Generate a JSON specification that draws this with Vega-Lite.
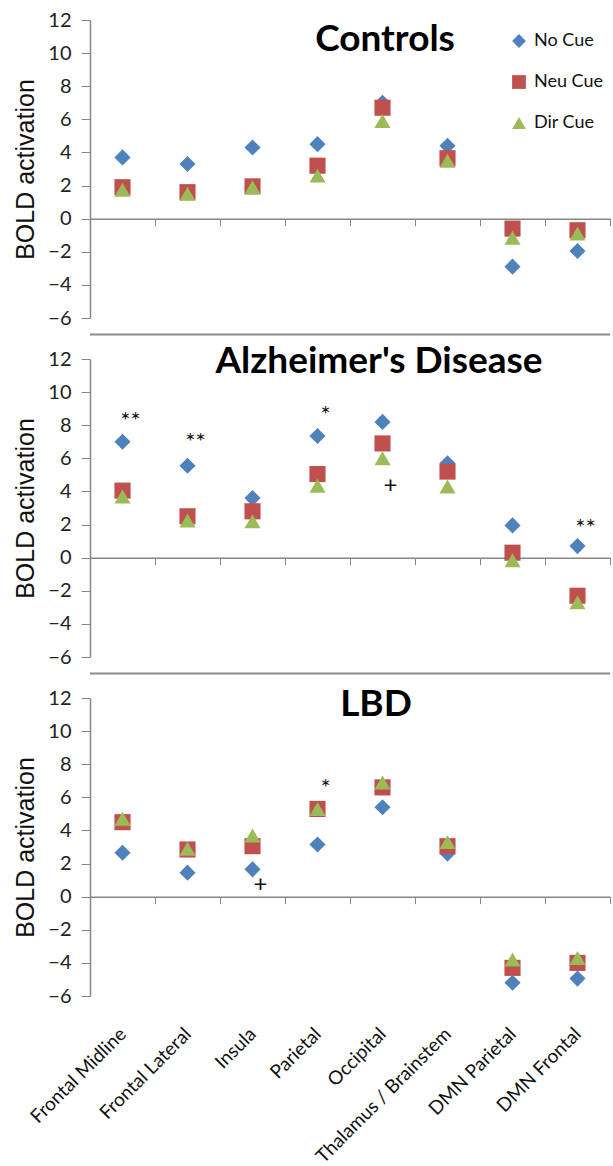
{
  "$schema": "https://vega.github.io/schema/vega-lite/v6.json",
  "padding": {"left": 13, "top": 10, "right": 0, "bottom": 0},
  "background": "white",
  "config": {
    "view": {"stroke": null},
    "font": "Lato",
    "axis": {"grid": false, "domainColor": "#868686", "tickColor": "#868686", "labelColor": "#222222", "labelFont": "Lato", "labelOverlap": false},
    "axisY": {"labelOverlap": false, "labelBound": false, "labelSeparation": -50}
  },
  "datasets": {
    "points": [
      {"group": "Controls", "region": "Frontal Midline", "cue": "No Cue", "value": 3.7},
      {"group": "Controls", "region": "Frontal Lateral", "cue": "No Cue", "value": 3.3},
      {"group": "Controls", "region": "Insula", "cue": "No Cue", "value": 4.3},
      {"group": "Controls", "region": "Parietal", "cue": "No Cue", "value": 4.5},
      {"group": "Controls", "region": "Occipital", "cue": "No Cue", "value": 7.0},
      {"group": "Controls", "region": "Thalamus / Brainstem", "cue": "No Cue", "value": 4.4},
      {"group": "Controls", "region": "DMN Parietal", "cue": "No Cue", "value": -2.9},
      {"group": "Controls", "region": "DMN Frontal", "cue": "No Cue", "value": -1.95},
      {"group": "Controls", "region": "Frontal Midline", "cue": "Neu Cue", "value": 1.9},
      {"group": "Controls", "region": "Frontal Lateral", "cue": "Neu Cue", "value": 1.6},
      {"group": "Controls", "region": "Insula", "cue": "Neu Cue", "value": 1.95},
      {"group": "Controls", "region": "Parietal", "cue": "Neu Cue", "value": 3.2},
      {"group": "Controls", "region": "Occipital", "cue": "Neu Cue", "value": 6.7},
      {"group": "Controls", "region": "Thalamus / Brainstem", "cue": "Neu Cue", "value": 3.65},
      {"group": "Controls", "region": "DMN Parietal", "cue": "Neu Cue", "value": -0.6},
      {"group": "Controls", "region": "DMN Frontal", "cue": "Neu Cue", "value": -0.7},
      {"group": "Controls", "region": "Frontal Midline", "cue": "Dir Cue", "value": 1.75},
      {"group": "Controls", "region": "Frontal Lateral", "cue": "Dir Cue", "value": 1.5},
      {"group": "Controls", "region": "Insula", "cue": "Dir Cue", "value": 1.9},
      {"group": "Controls", "region": "Parietal", "cue": "Dir Cue", "value": 2.6},
      {"group": "Controls", "region": "Occipital", "cue": "Dir Cue", "value": 5.9},
      {"group": "Controls", "region": "Thalamus / Brainstem", "cue": "Dir Cue", "value": 3.5},
      {"group": "Controls", "region": "DMN Parietal", "cue": "Dir Cue", "value": -1.15},
      {"group": "Controls", "region": "DMN Frontal", "cue": "Dir Cue", "value": -0.9},

      {"group": "AD", "region": "Frontal Midline", "cue": "No Cue", "value": 7.0},
      {"group": "AD", "region": "Frontal Lateral", "cue": "No Cue", "value": 5.55},
      {"group": "AD", "region": "Insula", "cue": "No Cue", "value": 3.6},
      {"group": "AD", "region": "Parietal", "cue": "No Cue", "value": 7.35},
      {"group": "AD", "region": "Occipital", "cue": "No Cue", "value": 8.2},
      {"group": "AD", "region": "Thalamus / Brainstem", "cue": "No Cue", "value": 5.7},
      {"group": "AD", "region": "DMN Parietal", "cue": "No Cue", "value": 1.95},
      {"group": "AD", "region": "DMN Frontal", "cue": "No Cue", "value": 0.7},
      {"group": "AD", "region": "Frontal Midline", "cue": "Neu Cue", "value": 4.05},
      {"group": "AD", "region": "Frontal Lateral", "cue": "Neu Cue", "value": 2.5},
      {"group": "AD", "region": "Insula", "cue": "Neu Cue", "value": 2.8},
      {"group": "AD", "region": "Parietal", "cue": "Neu Cue", "value": 5.05},
      {"group": "AD", "region": "Occipital", "cue": "Neu Cue", "value": 6.9},
      {"group": "AD", "region": "Thalamus / Brainstem", "cue": "Neu Cue", "value": 5.2},
      {"group": "AD", "region": "DMN Parietal", "cue": "Neu Cue", "value": 0.3},
      {"group": "AD", "region": "DMN Frontal", "cue": "Neu Cue", "value": -2.3},
      {"group": "AD", "region": "Frontal Midline", "cue": "Dir Cue", "value": 3.7},
      {"group": "AD", "region": "Frontal Lateral", "cue": "Dir Cue", "value": 2.25},
      {"group": "AD", "region": "Insula", "cue": "Dir Cue", "value": 2.2},
      {"group": "AD", "region": "Parietal", "cue": "Dir Cue", "value": 4.35},
      {"group": "AD", "region": "Occipital", "cue": "Dir Cue", "value": 6.0},
      {"group": "AD", "region": "Thalamus / Brainstem", "cue": "Dir Cue", "value": 4.3},
      {"group": "AD", "region": "DMN Parietal", "cue": "Dir Cue", "value": -0.15},
      {"group": "AD", "region": "DMN Frontal", "cue": "Dir Cue", "value": -2.7},

      {"group": "LBD", "region": "Frontal Midline", "cue": "No Cue", "value": 2.65},
      {"group": "LBD", "region": "Frontal Lateral", "cue": "No Cue", "value": 1.45},
      {"group": "LBD", "region": "Insula", "cue": "No Cue", "value": 1.65},
      {"group": "LBD", "region": "Parietal", "cue": "No Cue", "value": 3.15},
      {"group": "LBD", "region": "Occipital", "cue": "No Cue", "value": 5.4},
      {"group": "LBD", "region": "Thalamus / Brainstem", "cue": "No Cue", "value": 2.6},
      {"group": "LBD", "region": "DMN Parietal", "cue": "No Cue", "value": -5.2},
      {"group": "LBD", "region": "DMN Frontal", "cue": "No Cue", "value": -4.95},
      {"group": "LBD", "region": "Frontal Midline", "cue": "Neu Cue", "value": 4.5},
      {"group": "LBD", "region": "Frontal Lateral", "cue": "Neu Cue", "value": 2.85},
      {"group": "LBD", "region": "Insula", "cue": "Neu Cue", "value": 3.05},
      {"group": "LBD", "region": "Parietal", "cue": "Neu Cue", "value": 5.3},
      {"group": "LBD", "region": "Occipital", "cue": "Neu Cue", "value": 6.6},
      {"group": "LBD", "region": "Thalamus / Brainstem", "cue": "Neu Cue", "value": 3.05},
      {"group": "LBD", "region": "DMN Parietal", "cue": "Neu Cue", "value": -4.3},
      {"group": "LBD", "region": "DMN Frontal", "cue": "Neu Cue", "value": -4.0},
      {"group": "LBD", "region": "Frontal Midline", "cue": "Dir Cue", "value": 4.7},
      {"group": "LBD", "region": "Frontal Lateral", "cue": "Dir Cue", "value": 2.9},
      {"group": "LBD", "region": "Insula", "cue": "Dir Cue", "value": 3.7},
      {"group": "LBD", "region": "Parietal", "cue": "Dir Cue", "value": 5.3},
      {"group": "LBD", "region": "Occipital", "cue": "Dir Cue", "value": 6.9},
      {"group": "LBD", "region": "Thalamus / Brainstem", "cue": "Dir Cue", "value": 3.3},
      {"group": "LBD", "region": "DMN Parietal", "cue": "Dir Cue", "value": -3.8},
      {"group": "LBD", "region": "DMN Frontal", "cue": "Dir Cue", "value": -3.7}
    ],
    "notes": [
      {"group": "AD", "region": "Frontal Midline", "label": "**", "value": 8.2},
      {"group": "AD", "region": "Frontal Lateral", "label": "**", "value": 6.95},
      {"group": "AD", "region": "Parietal", "label": "*", "value": 8.55},
      {"group": "AD", "region": "Occipital", "label": "+", "value": 4.3},
      {"group": "AD", "region": "DMN Frontal", "label": "**", "value": 1.75},
      {"group": "LBD", "region": "Parietal", "label": "*", "value": 6.5},
      {"group": "LBD", "region": "Insula", "label": "+", "value": 0.7}
    ],
    "separator": [
      {"level": -7}
    ]
  },
  "spacing": 41,
  "bounds": "flush",
  "resolve": {"legend": {"color": "independent", "shape": "independent"}},
  "vconcat": [
    {
      "width": 520,
      "height": 298,
      "title": {"text": "Controls", "font": "Lato", "fontSize": 37, "fontWeight": "bold", "color": "#000000", "anchor": "middle", "offset": -49, "dx": 35},
      "layer": [
        {
          "data": {"name": "points"},
          "transform": [{"filter": "datum.group === 'Controls'"}],
          "mark": {"type": "point", "filled": true, "size": 260, "opacity": 1, "strokeWidth": 0},
          "encoding": {
            "x": {"field": "region", "type": "nominal", "scale": {"type": "band", "paddingInner": 0, "paddingOuter": 0, "domain": ["Frontal Midline", "Frontal Lateral", "Insula", "Parietal", "Occipital", "Thalamus / Brainstem", "DMN Parietal", "DMN Frontal"]},
              "axis": {"title": null, "labels": false, "offset": -99.33, "tickBand": "extent", "tickSize": 7, "domainWidth": 1.5}},
            "y": {"field": "value", "type": "quantitative", "scale": {"domain": [-6, 12], "nice": false, "zero": false},
              "axis": {"values": [-6, -4, -2, 0, 2, 4, 6, 8, 10, 12], "labelOverlap": false, "labelSeparation": -50, "tickSize": 9, "labelPadding": 10, "labelFontSize": 20, "title": "BOLD activation", "titleFont": "Liberation Sans", "titleFontSize": 25, "titleFontWeight": "normal", "titleColor": "#111111", "titlePadding": 9, "domainWidth": 1.5}},
            "color": {"field": "cue", "type": "nominal", "scale": {"domain": ["No Cue", "Neu Cue", "Dir Cue"], "range": ["#4F81BD", "#C0504D", "#9BBB59"]},
              "legend": {"title": null, "orient": "none", "legendX": 420, "legendY": 12, "labelFont": "Lato", "labelFontSize": 18, "labelColor": "#111111", "symbolSize": 190, "rowPadding": 23, "labelOffset": 6, "padding": 0, "symbolStrokeWidth": 0}},
            "shape": {"field": "cue", "type": "nominal", "scale": {"domain": ["No Cue", "Neu Cue", "Dir Cue"], "range": ["diamond", "square", "triangle-up"]},
              "legend": {"title": null, "orient": "none", "legendX": 420, "legendY": 12, "labelFont": "Lato", "labelFontSize": 18, "labelColor": "#111111", "symbolSize": 190, "rowPadding": 23, "labelOffset": 6, "padding": 0, "symbolStrokeWidth": 0}}
          }
        },
        {
          "data": {"name": "separator"},
          "mark": {"type": "rule", "color": "#8a8a8a", "strokeWidth": 2},
          "encoding": {"y": {"field": "level", "type": "quantitative",
              "axis": {"values": [-6, -4, -2, 0, 2, 4, 6, 8, 10, 12], "labelOverlap": false, "labelSeparation": -50, "tickSize": 9, "labelPadding": 10, "labelFontSize": 20, "title": "BOLD activation", "titleFont": "Liberation Sans", "titleFontSize": 25, "titleFontWeight": "normal", "titleColor": "#111111", "titlePadding": 9, "domainWidth": 1.5}}}
        }
      ]
    },
    {
      "width": 520,
      "height": 298,
      "title": {"text": "Alzheimer's Disease", "font": "Lato", "fontSize": 37, "fontWeight": "bold", "color": "#000000", "anchor": "middle", "offset": -32, "dx": 29},
      "layer": [
        {
          "data": {"name": "points"},
          "transform": [{"filter": "datum.group === 'AD'"}],
          "mark": {"type": "point", "filled": true, "size": 260, "opacity": 1, "strokeWidth": 0},
          "encoding": {
            "x": {"field": "region", "type": "nominal", "scale": {"type": "band", "paddingInner": 0, "paddingOuter": 0, "domain": ["Frontal Midline", "Frontal Lateral", "Insula", "Parietal", "Occipital", "Thalamus / Brainstem", "DMN Parietal", "DMN Frontal"]},
              "axis": {"title": null, "labels": false, "offset": -99.33, "tickBand": "extent", "tickSize": 7, "domainWidth": 1.5}},
            "y": {"field": "value", "type": "quantitative", "scale": {"domain": [-6, 12], "nice": false, "zero": false},
              "axis": {"values": [-6, -4, -2, 0, 2, 4, 6, 8, 10, 12], "labelOverlap": false, "labelSeparation": -50, "tickSize": 9, "labelPadding": 10, "labelFontSize": 20, "title": "BOLD activation", "titleFont": "Liberation Sans", "titleFontSize": 25, "titleFontWeight": "normal", "titleColor": "#111111", "titlePadding": 9, "domainWidth": 1.5}},
            "color": {"field": "cue", "type": "nominal", "scale": {"domain": ["No Cue", "Neu Cue", "Dir Cue"], "range": ["#4F81BD", "#C0504D", "#9BBB59"]}, "legend": null},
            "shape": {"field": "cue", "type": "nominal", "scale": {"domain": ["No Cue", "Neu Cue", "Dir Cue"], "range": ["diamond", "square", "triangle-up"]}, "legend": null}
          }
        },
        {
          "data": {"name": "notes"},
          "transform": [{"filter": "datum.group === 'AD'"}],
          "mark": {"type": "text", "font": "Lato", "fontSize": 24, "color": "#111111", "dx": 8, "baseline": "middle"},
          "encoding": {
            "x": {"field": "region", "type": "nominal",
              "axis": {"title": null, "labels": false, "offset": -99.33, "tickBand": "extent", "tickSize": 7, "domainWidth": 1.5}},
            "y": {"field": "value", "type": "quantitative",
              "axis": {"values": [-6, -4, -2, 0, 2, 4, 6, 8, 10, 12], "labelOverlap": false, "labelSeparation": -50, "tickSize": 9, "labelPadding": 10, "labelFontSize": 20, "title": "BOLD activation", "titleFont": "Liberation Sans", "titleFontSize": 25, "titleFontWeight": "normal", "titleColor": "#111111", "titlePadding": 9, "domainWidth": 1.5}},
            "text": {"field": "label"}
          }
        },
        {
          "data": {"name": "separator"},
          "mark": {"type": "rule", "color": "#8a8a8a", "strokeWidth": 2},
          "encoding": {"y": {"field": "level", "type": "quantitative",
              "axis": {"values": [-6, -4, -2, 0, 2, 4, 6, 8, 10, 12], "labelOverlap": false, "labelSeparation": -50, "tickSize": 9, "labelPadding": 10, "labelFontSize": 20, "title": "BOLD activation", "titleFont": "Liberation Sans", "titleFontSize": 25, "titleFontWeight": "normal", "titleColor": "#111111", "titlePadding": 9, "domainWidth": 1.5}}}
        }
      ]
    },
    {
      "width": 520,
      "height": 298,
      "title": {"text": "LBD", "font": "Lato", "fontSize": 37, "fontWeight": "bold", "color": "#000000", "anchor": "middle", "offset": -36, "dx": 26},
      "layer": [
        {
          "data": {"name": "points"},
          "transform": [{"filter": "datum.group === 'LBD'"}],
          "mark": {"type": "point", "filled": true, "size": 260, "opacity": 1, "strokeWidth": 0},
          "encoding": {
            "x": {"field": "region", "type": "nominal", "scale": {"type": "band", "paddingInner": 0, "paddingOuter": 0, "domain": ["Frontal Midline", "Frontal Lateral", "Insula", "Parietal", "Occipital", "Thalamus / Brainstem", "DMN Parietal", "DMN Frontal"]},
              "axis": {"title": null, "labels": true, "offset": -99.33, "tickBand": "extent", "tickSize": 7, "domainWidth": 1.5, "labelAngle": -45, "labelAlign": "right", "labelBaseline": "middle", "labelPadding": 127, "labelFontSize": 19, "labelFont": "Lato", "labelColor": "#111111", "labelOverlap": false, "labelLimit": 400}},
            "y": {"field": "value", "type": "quantitative", "scale": {"domain": [-6, 12], "nice": false, "zero": false},
              "axis": {"values": [-6, -4, -2, 0, 2, 4, 6, 8, 10, 12], "labelOverlap": false, "labelSeparation": -50, "tickSize": 9, "labelPadding": 10, "labelFontSize": 20, "title": "BOLD activation", "titleFont": "Liberation Sans", "titleFontSize": 25, "titleFontWeight": "normal", "titleColor": "#111111", "titlePadding": 9, "domainWidth": 1.5}},
            "color": {"field": "cue", "type": "nominal", "scale": {"domain": ["No Cue", "Neu Cue", "Dir Cue"], "range": ["#4F81BD", "#C0504D", "#9BBB59"]}, "legend": null},
            "shape": {"field": "cue", "type": "nominal", "scale": {"domain": ["No Cue", "Neu Cue", "Dir Cue"], "range": ["diamond", "square", "triangle-up"]}, "legend": null}
          }
        },
        {
          "data": {"name": "notes"},
          "transform": [{"filter": "datum.group === 'LBD'"}],
          "mark": {"type": "text", "font": "Lato", "fontSize": 24, "color": "#111111", "dx": 8, "baseline": "middle"},
          "encoding": {
            "x": {"field": "region", "type": "nominal",
              "axis": {"title": null, "labels": true, "offset": -99.33, "tickBand": "extent", "tickSize": 7, "domainWidth": 1.5, "labelAngle": -45, "labelAlign": "right", "labelBaseline": "middle", "labelPadding": 127, "labelFontSize": 19, "labelFont": "Lato", "labelColor": "#111111", "labelOverlap": false, "labelLimit": 400}},
            "y": {"field": "value", "type": "quantitative",
              "axis": {"values": [-6, -4, -2, 0, 2, 4, 6, 8, 10, 12], "labelOverlap": false, "labelSeparation": -50, "tickSize": 9, "labelPadding": 10, "labelFontSize": 20, "title": "BOLD activation", "titleFont": "Liberation Sans", "titleFontSize": 25, "titleFontWeight": "normal", "titleColor": "#111111", "titlePadding": 9, "domainWidth": 1.5}},
            "text": {"field": "label"}
          }
        }
      ]
    }
  ]
}
